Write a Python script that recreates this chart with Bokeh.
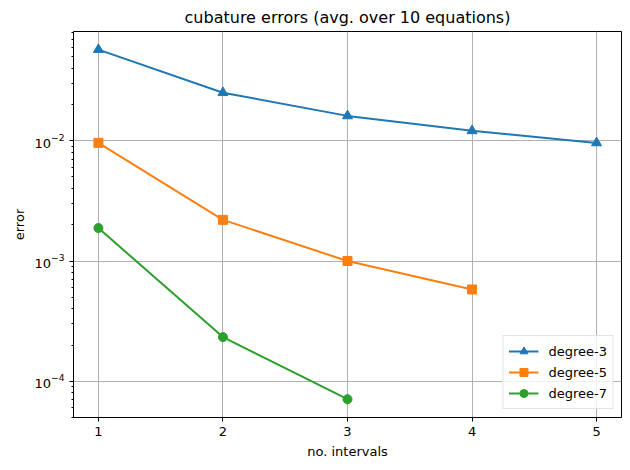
from bokeh.plotting import figure
from bokeh.embed import file_html
from bokeh.resources import INLINE
from bokeh.models import Range1d, FixedTicker, Legend, LegendItem

x3 = [1, 2, 3, 4, 5]
err3 = [0.0573, 0.0251, 0.0161, 0.0121, 0.0096]
x5 = [1, 2, 3, 4]
err5 = [0.0096, 0.0022, 0.00100, 0.00058]
x7 = [1, 2, 3]
err7 = [0.00188, 0.000233, 0.0000710]
labels = ["degree-3", "degree-5", "degree-7"]
colors = ["#1f77b4", "#ff7f0e", "#2ca02c"]

FONT = "DejaVu Sans"

p = figure(width=622, height=462, y_axis_type="log",
           output_backend="svg", toolbar_location=None,
           x_range=Range1d(0.8, 5.2), y_range=Range1d(5.0e-5, 0.081),
           title="cubature errors (avg. over 10 equations)",
           min_border_left=73, min_border_right=1, min_border_top=26, min_border_bottom=45)

p.title.align = "center"
p.title.text_font = FONT
p.title.text_font_size = "16px"
p.title.text_font_style = "normal"
p.title.text_color = "#000000"

p.outline_line_color = "black"
p.outline_line_width = 1
p.outline_line_alpha = 1

for ax in (p.xaxis[0], p.yaxis[0]):
    ax.axis_line_color = None
    ax.major_label_text_font = FONT
    ax.major_label_text_font_size = "13px"
    ax.major_label_text_color = "#000000"
    ax.axis_label_text_font = FONT
    ax.axis_label_text_font_size = "13px"
    ax.axis_label_text_font_style = "normal"
    ax.axis_label_text_color = "#000000"
    ax.major_tick_out = 4
    ax.major_tick_in = 0
    ax.minor_tick_out = 2
    ax.minor_tick_in = 0

p.xaxis.ticker = FixedTicker(ticks=[1, 2, 3, 4, 5])
p.xaxis.axis_label = "no. intervals"
p.yaxis.axis_label = "error"

p.xgrid.grid_line_color = "#b0b0b0"
p.ygrid.grid_line_color = "#b0b0b0"
p.xgrid.grid_line_width = 1
p.ygrid.grid_line_width = 1

r1 = p.line(x3, err3, color=colors[0], line_width=2)
m1 = p.scatter(x3, err3, marker="triangle", size=10, color=colors[0])
r2 = p.line(x5, err5, color=colors[1], line_width=2)
m2 = p.scatter(x5, err5, marker="square", size=9, color=colors[1])
r3 = p.line(x7, err7, color=colors[2], line_width=2)
m3 = p.scatter(x7, err7, marker="circle", size=9, color=colors[2])

legend = Legend(items=[LegendItem(label=labels[0], renderers=[r1, m1]),
                       LegendItem(label=labels[1], renderers=[r2, m2]),
                       LegendItem(label=labels[2], renderers=[r3, m3])],
                location="bottom_right")
legend.label_text_font = FONT
legend.label_text_font_size = "13px"
legend.label_text_color = "#000000"
legend.border_line_color = "#cccccc"
legend.background_fill_alpha = 0.8
legend.spacing = 1
legend.padding = 5
legend.margin = 8
legend.glyph_width = 30
legend.label_height = 20
legend.glyph_height = 20
legend.label_standoff = 10
p.add_layout(legend, "center")

open("out.html", "w").write(file_html(p, INLINE))
